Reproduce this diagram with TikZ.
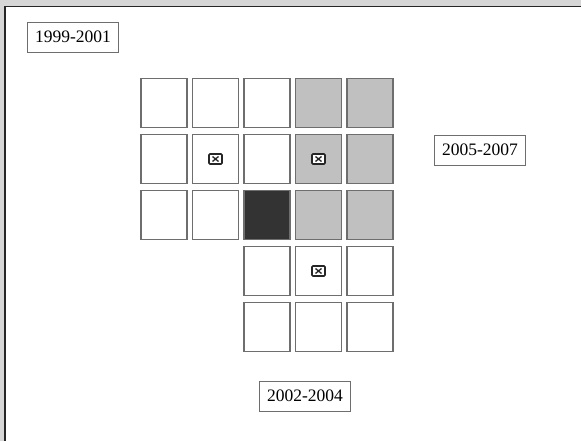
\documentclass[tikz,border=0pt]{standalone}
\usepackage{fontspec}
\setmainfont{Liberation Serif}
\usetikzlibrary{positioning}
\definecolor{bandgray}{RGB}{214,214,214}
\definecolor{cellgray}{RGB}{192,192,192}
\definecolor{celldark}{RGB}{51,51,51}
\definecolor{edgegray}{RGB}{110,110,110}

\begin{document}
\begin{tikzpicture}[x=1pt,y=-1pt,
 cell/.style={draw=edgegray,line width=1.1pt,minimum width=46pt,minimum height=49pt,inner sep=0pt},
 period/.style={draw=edgegray,line width=0.9pt,minimum height=30pt,inner xsep=8pt,font=\fontsize{17.5}{17.5}\selectfont},
 xmark/.style={draw=black!85,fill=white,line width=1.6pt,rounded corners=1pt,minimum width=13pt,minimum height=10pt,inner sep=0pt,
  path picture={\draw[black!85,line width=1.3pt] ([shift={(3.5pt,2.5pt)}]path picture bounding box.south west) -- ([shift={(-3.5pt,-2.5pt)}]path picture bounding box.north east)
   ([shift={(3.5pt,-2.5pt)}]path picture bounding box.north west) -- ([shift={(-3.5pt,2.5pt)}]path picture bounding box.south east);}}]
% frame
\useasboundingbox (0,0) rectangle (581,441);
\fill[bandgray] (0,0) rectangle (581,441);
\fill[white] (5,7) rectangle (581,441);
\draw[black!85,line width=1.5pt] (4.75,441) -- (4.75,6.75) -- (581,6.75);
% grid of cells
\foreach \r in {1,2,3}
 \foreach \c in {1,2}
  \node[cell,fill=white] (c\r\c) at ({164+(\c-1)*51.5},{103+(\r-1)*56}) {};
\foreach \r in {1,2}
  \node[cell,fill=white] (c\r3) at (267,{103+(\r-1)*56}) {};
\node[cell,fill=celldark] (c33) at (267,215) {};
\foreach \r in {1,2,3}
 \foreach \c in {4,5}
  \node[cell,fill=cellgray] (c\r\c) at ({164+(\c-1)*51.5},{103+(\r-1)*56}) {};
\foreach \r in {4,5}
 \foreach \c in {3,4,5}
  \node[cell,fill=white] (c\r\c) at ({164+(\c-1)*51.5},{103+(\r-1)*56}) {};
% marks
\foreach \m in {22,24,44}
  \node[xmark] (m\m) at (c\m) {};
% periods
\node[period] (early) at (73,37) {1999-2001};
\node[period] (late) at (480,150) {2005-2007};
\node[period] (mid) at (305,396) {2002-2004};
\end{tikzpicture}
\end{document}
